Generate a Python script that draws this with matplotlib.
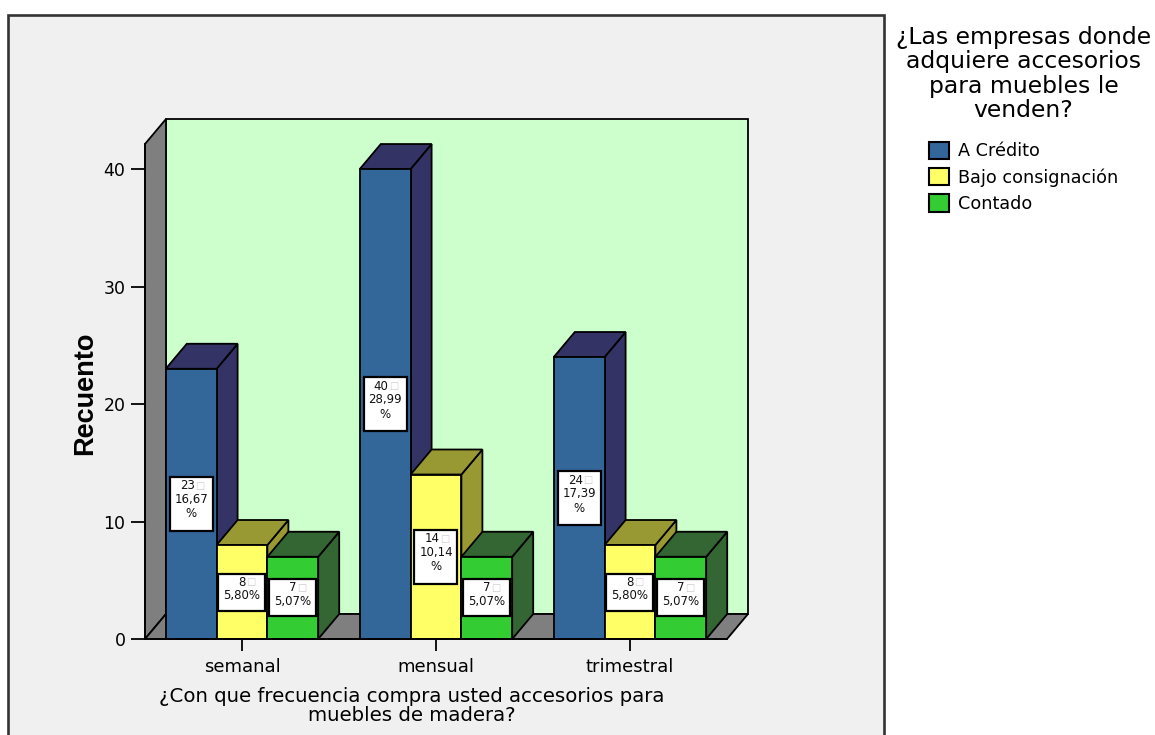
"""Clustered pseudo-3D bars of purchase frequency by payment type."""
import matplotlib
matplotlib.use("Agg")
import matplotlib.pyplot as plt
import numpy as np
from matplotlib.patches import Patch, Polygon, Rectangle

plt.rcParams["font.family"] = ["DejaVu Sans"]

categories = ["semanal", "mensual", "trimestral"]
series = ["A Crédito", "Bajo consignación", "Contado"]
credito = [23, 40, 24]
consignacion = [8, 14, 8]
contado = [7, 7, 7]
pct_credito = ["16,67\n%", "28,99\n%", "17,39\n%"]
pct_consignacion = ["5,80%", "10,14\n%", "5,80%"]
pct_contado = ["5,07%", "5,07%", "5,07%"]
yticks = [0, 10, 20, 30, 40]

FRONT = ["#336699", "#ffff66", "#33cc33"]
SHADE = ["#333366", "#999933", "#336633"]
GRAY = "#7f7f7f"
W, H = 1155, 735
DEPTH_X, DEPTH_Y = 21 / 194, 25 / 11.75  # depth of the box, in data units
BAR = 50.8 / 194
LW = 1.3

fig = plt.figure(figsize=(W / 100, H / 100), dpi=100, facecolor="white")
fig.add_artist(Rectangle((8 / W, -0.05), 876 / W, 1.05 - 15 / H, transform=fig.transFigure,
                         facecolor="#f0f0f0", edgecolor="#333333", linewidth=1.9, zorder=-1))

ax = fig.add_axes([145 / W, 1 - 639 / H, 582 / W, 495 / H])
ax.patch.set_visible(False)
x0, x1, top = -0.5, 2.5, 42.13
ax.set_xlim(x0, x1)
ax.set_ylim(0, top)


def poly(pts, color, z=1):
    ax.add_patch(Polygon(pts, closed=True, facecolor=color, edgecolor="black",
                         linewidth=LW, clip_on=False, zorder=z, joinstyle="miter"))


# walls of the box
poly([(x0 + DEPTH_X, DEPTH_Y), (x1 + DEPTH_X, DEPTH_Y), (x1 + DEPTH_X, top + DEPTH_Y),
      (x0 + DEPTH_X, top + DEPTH_Y)], "#ccffcc")
poly([(x0, 0), (x0 + DEPTH_X, DEPTH_Y), (x0 + DEPTH_X, top + DEPTH_Y), (x0, top)], GRAY)
poly([(x0, 0), (x1, 0), (x1 + DEPTH_X, DEPTH_Y), (x0 + DEPTH_X, DEPTH_Y)], GRAY)

values = [credito, consignacion, contado]
pcts = [pct_credito, pct_consignacion, pct_contado]
z = 2
for i in range(len(categories)):
    for j in range(len(series)):
        v = values[j][i]
        left = i + (j - 1.5) * BAR
        right = left + BAR
        poly([(right, 0), (right + DEPTH_X, DEPTH_Y), (right + DEPTH_X, v + DEPTH_Y), (right, v)], SHADE[j], z)
        poly([(left, v), (right, v), (right + DEPTH_X, v + DEPTH_Y), (left + DEPTH_X, v + DEPTH_Y)], SHADE[j], z)
        poly([(left, 0), (right, 0), (right, v), (left, v)], FRONT[j], z)

        # value label: white box centred on the bar
        three = "\n" in pcts[j][i]
        bw = (43 if three else 47) / 194
        bh = (54 if three else 37) / 11.75
        xc = (left + right) / 2
        ax.add_patch(Rectangle((xc - bw / 2, v / 2 - bh / 2), bw, bh, facecolor="white",
                               edgecolor="black", linewidth=LW + 0.3, zorder=z + 1))
        off = 18 if three else 10
        ax.annotate(str(v), (xc, v / 2), xytext=(2.5, off * 0.72), textcoords="offset points",
                    ha="right", va="center", fontsize=8.5, color="#111111", zorder=z + 2)
        ax.annotate("\u25a1", (xc, v / 2), xytext=(3, off * 0.72), textcoords="offset points",
                    ha="left", va="center", fontsize=7, color="#cccccc", zorder=z + 2)
        ax.annotate(pcts[j][i], (xc, v / 2), xytext=(0, (off - 7) * 0.72), textcoords="offset points",
                    ha="center", va="top", fontsize=8.5, color="#111111", zorder=z + 2, linespacing=1.15)
        z += 3

for s in ["top", "right"]:
    ax.spines[s].set_visible(False)
for s in ["left", "bottom"]:
    ax.spines[s].set_linewidth(LW)
    ax.spines[s].set_zorder(1.5)
ax.spines["bottom"].set_zorder(z + 5)

ax.set_yticks(yticks)
ax.set_xticks(range(len(categories)))
ax.set_xticklabels(categories, fontsize=13)
ax.tick_params(axis="y", length=10, width=LW, labelsize=12.5, pad=4)
ax.tick_params(axis="x", length=8.5, width=LW, pad=5)

ax.set_ylabel("Recuento", fontsize=19.5, fontweight="bold", family="Liberation Sans", va="center")
ax.yaxis.set_label_coords((85 - 145) / 582, (639 - 393) / 495)
ax.set_xlabel("¿Con que frecuencia compra usted accesorios para\nmuebles de madera?",
              fontsize=14.2, linespacing=1.03)
ax.xaxis.set_label_coords((412 - 145) / 582, -(687 - 639) / 495)
ax.xaxis.label.set_va("top")

handles = [Patch(facecolor=c, edgecolor="black", linewidth=LW + 0.2) for c in FRONT]
leg = fig.legend(handles, series, loc="upper left", bbox_to_anchor=(896 / W, 1 - 26 / H),
                 bbox_transform=fig.transFigure, frameon=False, fontsize=12.7,
                 title="¿Las empresas donde\nadquiere accesorios\npara muebles le\nvenden?",
                 title_fontsize=16.9, handlelength=1.15, handleheight=1.15,
                 labelspacing=0.42, handletextpad=0.5, borderpad=0, borderaxespad=0)
leg.get_title().set_linespacing(1.08)
leg.get_title().set_multialignment("center")
leg._legend_box.sep = 14

fig.savefig("out.png", dpi=100)
